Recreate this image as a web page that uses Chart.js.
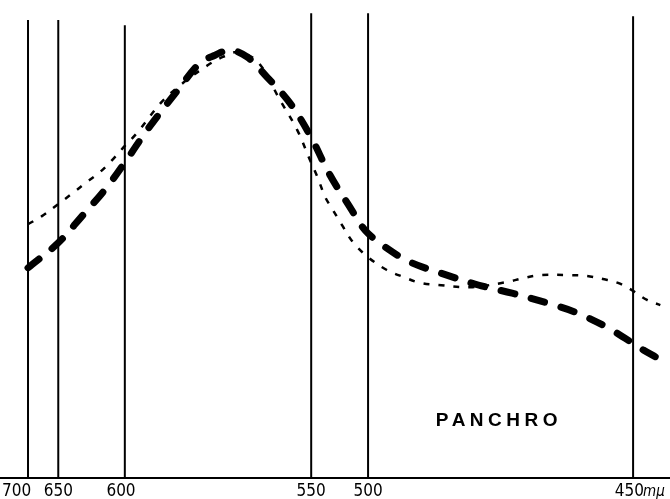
<!DOCTYPE html>
<html>
<head>
<meta charset="utf-8">
<script src="https://cdn.jsdelivr.net/npm/chart.js@4/dist/chart.umd.min.js"></script>
<style>
  html, body { margin: 0; padding: 0; background: #fff; }
  #wrap { width: 670px; height: 499px; }
</style>
</head>
<body>
<div id="wrap"><canvas id="c" width="670" height="499"></canvas></div>
<script>
// Wavelength marks (positions along the plate axis, arbitrary units) and their labels
const tickValues = [0, 5.0, 16.0, 46.8, 56.2, 100];
const tickLabels = ['700\u2002\u2002\u2002', '650', '600\u2002', '550', '500', '450\u2002'];
const unitLabel = 'mμ';
// Height reached by each vertical wavelength line (relative units)
const markerTops = [107, 107, 105.8, 108.6, 108.6, 107.9];

// Heavy dashed curve
const heavyX = [0, 4.96, 8.93, 13.06, 16.86, 19.67, 24.79, 28.43, 30.91, 33.39, 36.2, 39.5, 43.3, 46.6, 49.9, 53.2, 55.7, 59.0, 63.1, 68.6, 74.4, 80.0, 85.8, 90.7, 96.2, 101.7, 104.1];
const heavyY = [49.1, 54.9, 61.2, 68.0, 75.5, 81.3, 90.7, 97.0, 98.8, 100, 98.4, 93.7, 87.6, 80.1, 70.8, 63.3, 57.9, 54.0, 50.5, 47.7, 45.1, 43.2, 40.9, 38.6, 34.8, 29.9, 28.0];

// Fine dotted curve
const fineX = [0, 2.3, 4.8, 7.4, 9.75, 11.9, 13.9, 16.0, 18.0, 22.1, 25.6, 29.75, 32.2, 34.7, 38.0, 41.65, 44.5, 46.6, 47.9, 49.1, 50.4, 51.9, 53.7, 56.2, 59.3, 62.0, 64.8, 67.8, 73.1, 79.2, 81.8, 84.6, 89.6, 92.4, 95.0, 97.5, 99.8, 102.3, 104.5];
const fineY = [59.3, 61.2, 63.8, 66.6, 69.2, 71.5, 74.3, 77.6, 80.6, 87.9, 92.3, 96.5, 98.4, 99.5, 97.2, 88.3, 81.3, 74.3, 70.1, 65.7, 62.6, 59.1, 55.1, 51.6, 48.6, 47.0, 45.6, 45.1, 44.6, 45.8, 46.7, 47.4, 47.4, 47.2, 46.5, 45.6, 43.9, 41.6, 40.4];

const title = 'PANCHRO';
const titleAt = { x: 77.5, y: 13.3 };

const toPts = (xs, ys) => xs.map((x, i) => ({ x: x, y: ys[i] }));

const markerSets = tickValues.map((v, i) => ({
  type: 'line',
  data: [{ x: v, y: 0 }, { x: v, y: markerTops[i] }],
  borderColor: '#000',
  borderWidth: 2,
  pointRadius: 0,
  tension: 0,
  order: 3
}));

const textPlugin = {
  id: 'texts',
  afterDatasetsDraw(chart) {
    const { ctx, scales } = chart;
    const xs = scales.x, ys = scales.y;
    ctx.save();
    ctx.fillStyle = '#000';
    ctx.font = 'bold 19px "Liberation Sans", Arial, sans-serif';
    ctx.textAlign = 'center';
    ctx.textBaseline = 'middle';
    if ('letterSpacing' in ctx) ctx.letterSpacing = '4.5px';
    ctx.fillText(title, xs.getPixelForValue(titleAt.x) + 2, ys.getPixelForValue(titleAt.y));
    if ('letterSpacing' in ctx) ctx.letterSpacing = '0px';
    // unit after last tick label
    ctx.font = 'italic 15px "DejaVu Sans Condensed", "Liberation Sans Narrow", sans-serif';
    ctx.textAlign = 'left';
    ctx.textBaseline = 'alphabetic';
    const lastX = xs.getPixelForValue(tickValues[tickValues.length - 1]);
    ctx.fillText(unitLabel, lastX + 10, chart.chartArea.bottom + 18);
    ctx.restore();
  }
};

new Chart(document.getElementById('c'), {
  type: 'line',
  data: {
    datasets: [
      {
        data: toPts(heavyX, heavyY),
        borderColor: '#000',
        borderWidth: 7,
        borderDash: [14, 17],
        borderCapStyle: 'round',
        pointRadius: 0,
        tension: 0.35,
        fill: false,
        order: 1
      },
      {
        data: toPts(fineX, fineY),
        borderColor: '#000',
        borderWidth: 2.5,
        borderDash: [6, 9],
        pointRadius: 0,
        tension: 0.35,
        fill: false,
        order: 2
      },
      ...markerSets
    ]
  },
  options: {
    responsive: false,
    animation: false,
    devicePixelRatio: 1,
    layout: { padding: 0 },
    plugins: { legend: { display: false }, tooltip: { enabled: false } },
    scales: {
      x: {
        type: 'linear',
        min: -4.63,
        max: 106.1,
        grid: { display: false, drawTicks: false },
        border: { display: true, color: '#000', width: 2 },
        afterBuildTicks: (scale) => { scale.ticks = tickValues.map(v => ({ value: v })); },
        afterFit: (scale) => {
          scale.height = 21;
          scale.paddingLeft = 0;
          scale.paddingRight = 0;
        },
        ticks: {
          autoSkip: false,
          maxRotation: 0,
          padding: 5,
          color: '#000',
          font: { family: '"Liberation Sans Narrow", "DejaVu Sans Condensed", sans-serif', size: 17, lineHeight: 1.0 },
          callback: (value) => {
            const i = tickValues.indexOf(value);
            return i >= 0 ? tickLabels[i] : '';
          }
        }
      },
      y: {
        type: 'linear',
        display: false,
        min: 0,
        max: 111.7
      }
    }
  },
  plugins: [textPlugin]
});
</script>
</body>
</html>
